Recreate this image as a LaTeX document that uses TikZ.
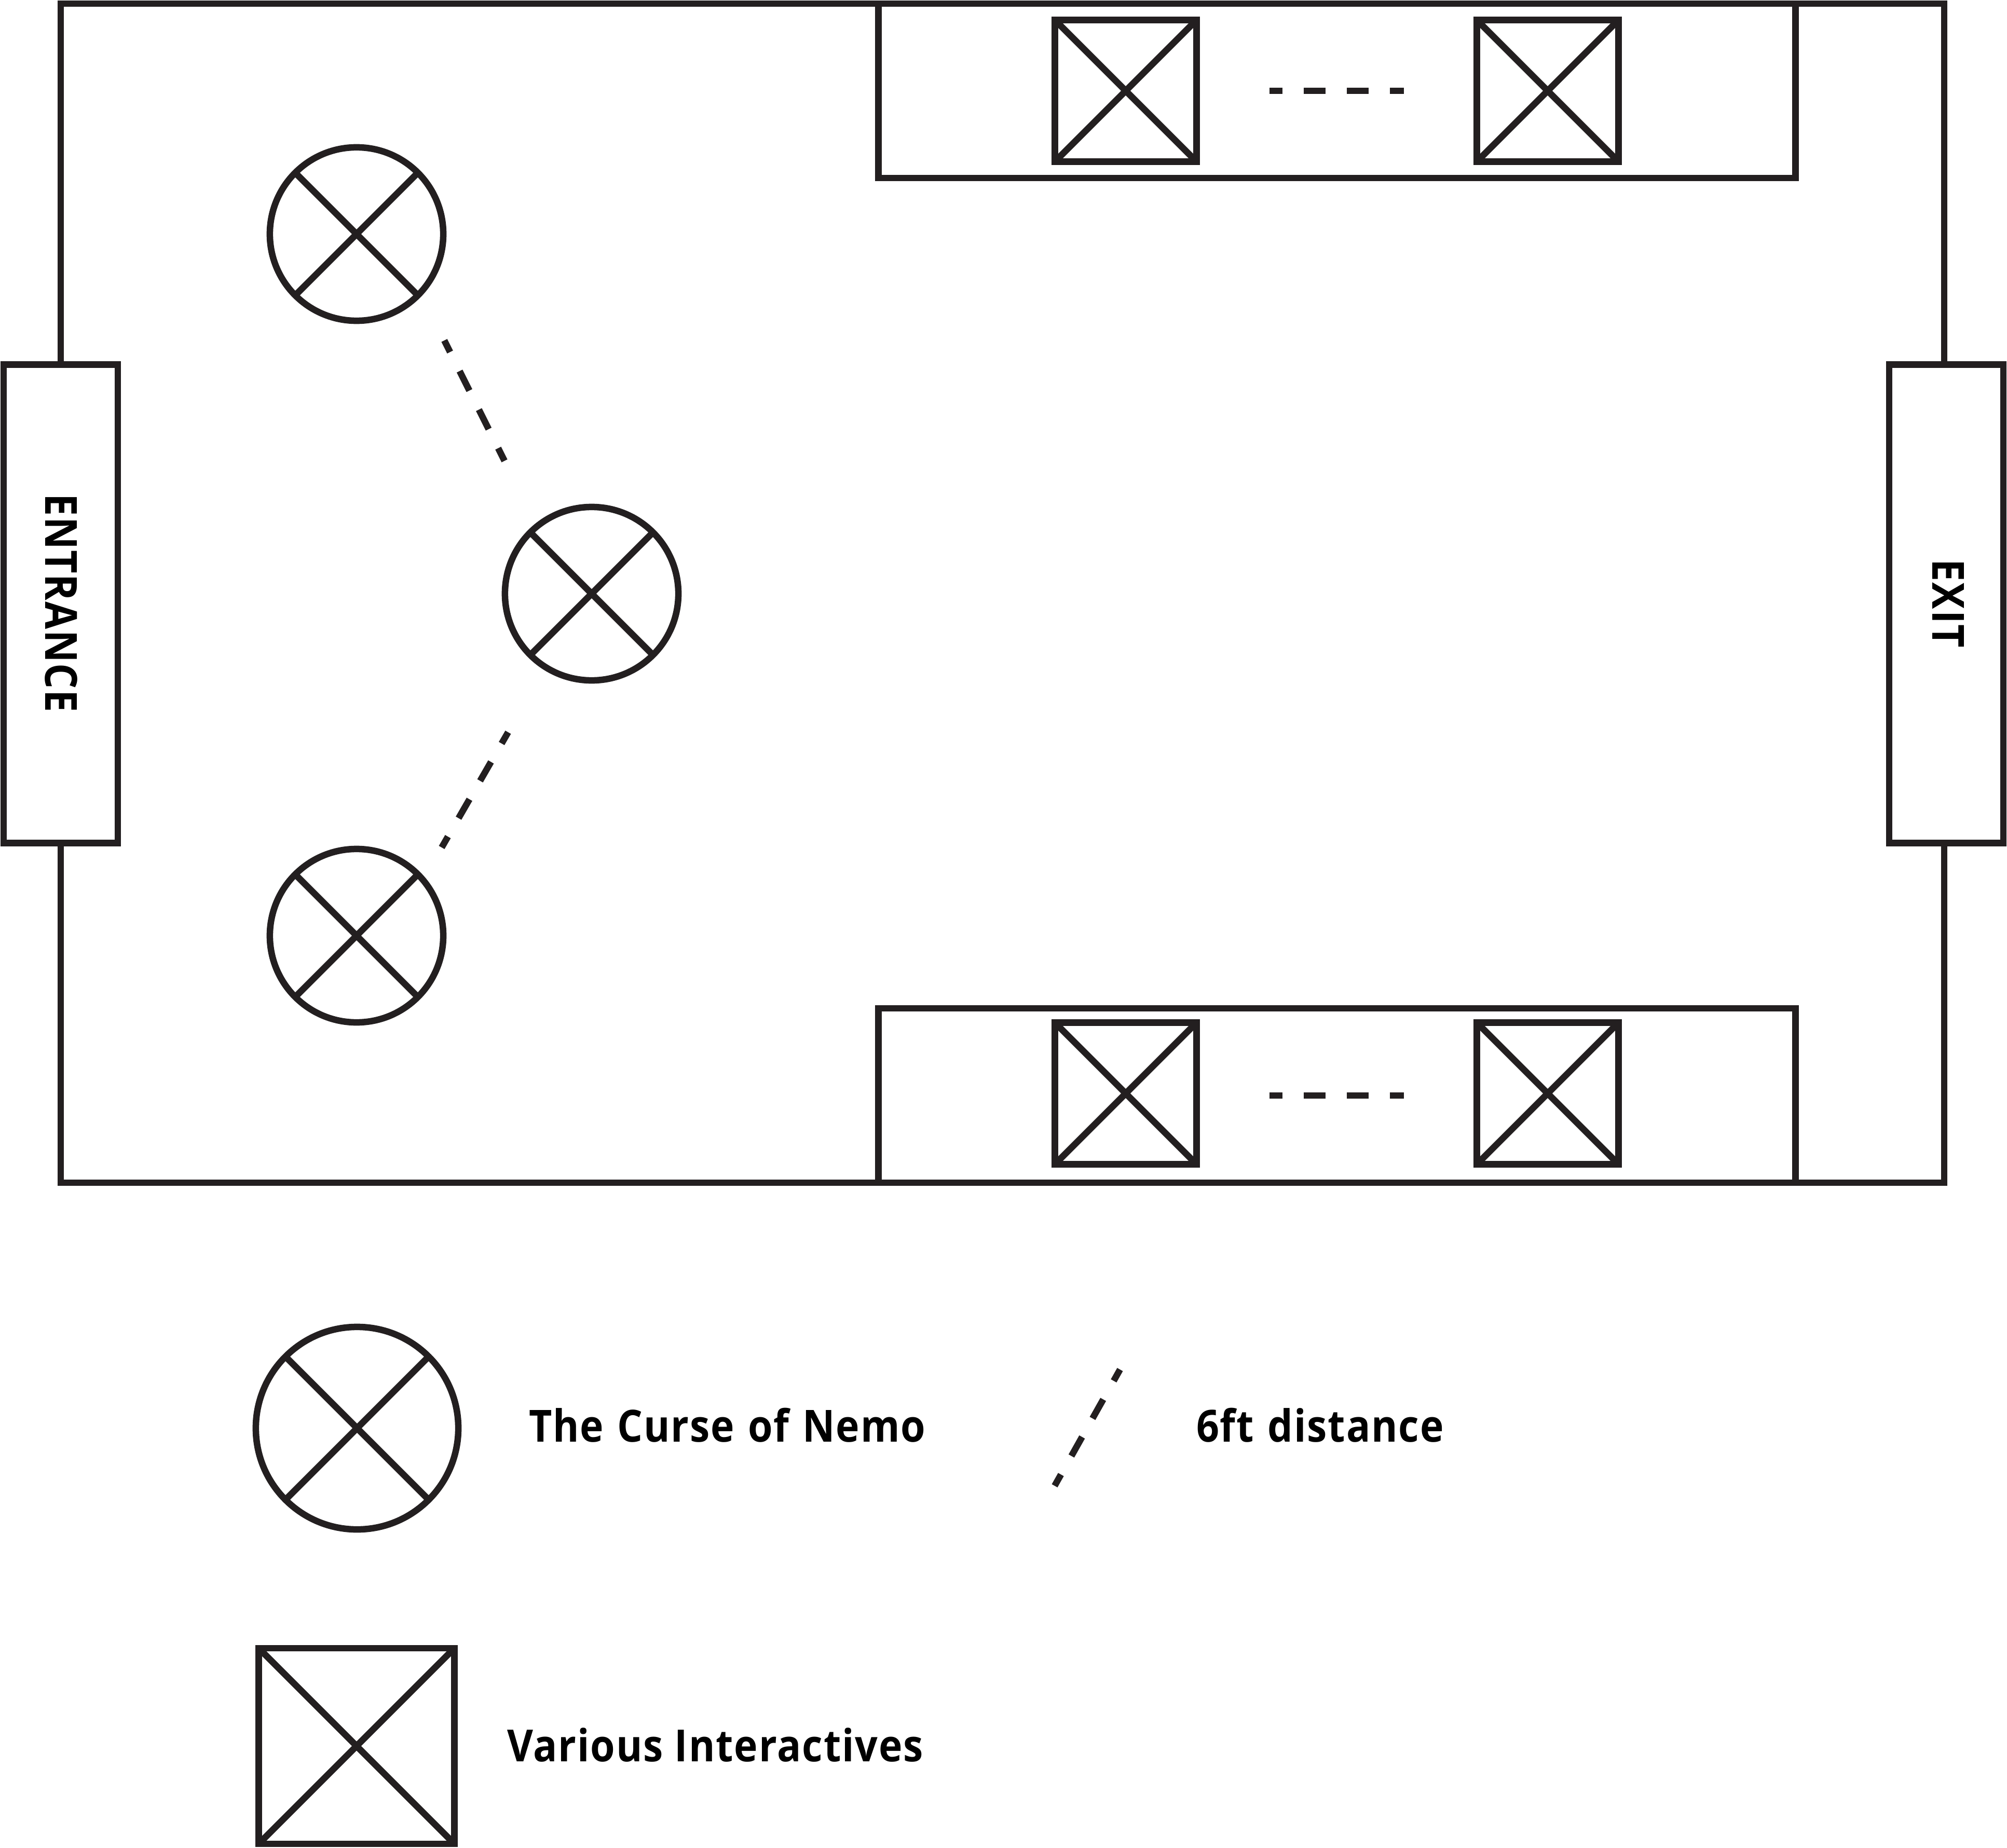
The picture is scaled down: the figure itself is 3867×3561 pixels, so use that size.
\documentclass[tikz,border=0pt]{standalone}
\usepackage{fontspec}
\setmainfont{Open Sans}[FakeStretch=0.9,LetterSpace=2.2]
\definecolor{ink}{HTML}{231F20}
\tikzset{
  plan/.style={draw=ink,line width=0.125cm,line join=miter},
  box/.style={plan,rectangle,fill=white,inner sep=0pt,outer sep=0pt,minimum width=#1},
  disc/.style={plan,circle,inner sep=0pt,outer sep=0pt,minimum size=#1},
  sq/.style={plan,rectangle,inner sep=0pt,outer sep=0pt,minimum size=#1},
  cross/.style={draw=ink,line width=0.125cm,line cap=butt},
  gapline/.style={draw=ink,line width=0.125cm,dash pattern=on 0.42cm off 0.41cm,dash phase=0.17cm},
  lab/.style={inner sep=0pt,outer sep=0pt,text=black,font=\fontsize{24.3pt}{29pt}\selectfont\bfseries},
}
\begin{document}
\begin{tikzpicture}[x=0.01cm,y=-0.01cm]
\useasboundingbox (0,0) rectangle (3867,3561);
\fill[white] (0,0) rectangle (3867,3561);
\draw[plan] (117,7) rectangle (3746,2279);
\node[box=2.20cm,minimum height=9.21cm] (entrance) at (117,1163.5) {};
\node[box=2.20cm,minimum height=9.21cm] (exit) at (3750,1163.5) {};
\node[lab,rotate=-90] (entrancelab) at (118,1162) {ENTRANCE};
\node[lab,rotate=-90] (exitlab) at (3754,1163) {EXIT};
\node[box=17.66cm,minimum height=3.36cm] (topbay) at (2576,175) {};
\node[box=17.66cm,minimum height=3.36cm] (botbay) at (2576,2111) {};
\foreach \n/\x/\y in {a/2169/175,b/2982/175,c/2169/2107,d/2982/2107}{
  \node[sq=2.73cm] (\n) at (\x,\y) {};
  \draw[cross] (\n.north west) -- (\n.south east);
  \draw[cross] (\n.north east) -- (\n.south west);
}
\coordinate (t1) at (2446,175); \coordinate (t2) at (2705,175);
\coordinate (b1) at (2446,2111); \coordinate (b2) at (2705,2111);
\draw[gapline] (t1) -- (t2);
\draw[gapline] (b1) -- (b2);
\foreach \n/\x/\y in {p/687/451,q/1140/1144,r/687/1803}{
  \node[disc=3.34cm] (\n) at (\x,\y) {};
  \draw[cross] (\n.north west) -- (\n.south east);
  \draw[cross] (\n.north east) -- (\n.south west);
}
\coordinate (d1) at (856,656); \coordinate (d2) at (972,888);
\coordinate (d3) at (979,1411); \coordinate (d4) at (851,1633);
\draw[gapline] (d1) -- (d2);
\draw[gapline] (d3) -- (d4);
% legend
\node[disc=3.90cm] (lc) at (688,2752) {};
\draw[cross] (lc.north west) -- (lc.south east);
\draw[cross] (lc.north east) -- (lc.south west);
\node[sq=3.77cm] (ls) at (687,3364.5) {};
\draw[cross] (ls.north west) -- (ls.south east);
\draw[cross] (ls.north east) -- (ls.south west);
\coordinate (l1) at (2158,2639); \coordinate (l2) at (2032,2863);
\draw[gapline] (l1) -- (l2);
\node[lab,anchor=base west] (t1lab) at (1019,2778) {The\kern1.2pt{} Curse\kern1.2pt{} of\kern1.2pt{} Nemo};
\node[lab,anchor=base west] (t2lab) at (2305,2778) {6ft\kern1.5pt{} distance};
\node[lab,anchor=base west] (t3lab) at (977,3394) {Various Interactives};
\end{tikzpicture}
\end{document}
